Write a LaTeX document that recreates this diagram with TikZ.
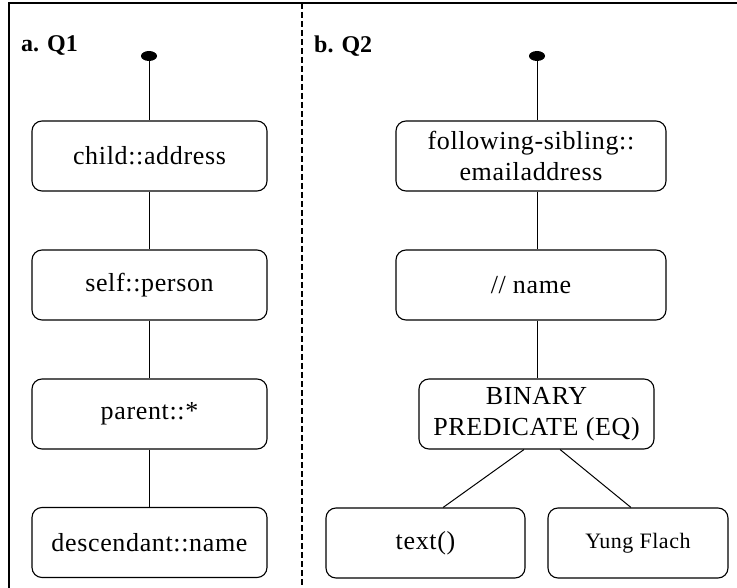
\documentclass[tikz,border=0pt]{standalone}
\usepackage{fontspec}
\setmainfont{Liberation Serif}
\usetikzlibrary{shapes.geometric,calc}
\tikzset{
  box/.style={draw, line width=1.1pt, rounded corners=10pt, inner sep=0pt, minimum height=70pt, align=center,
    font=\fontsize{26}{31}\selectfont\addfontfeatures{LetterSpace=2.5}},
  wbox/.style={box, minimum width=235pt},
  rbox/.style={box, minimum width=270pt},
  root/.style={ellipse, fill=black, minimum width=16pt, minimum height=10pt, inner sep=0pt},
  link/.style={line width=1pt},
  head/.style={anchor=west, inner sep=0pt, font=\fontsize{24}{28}\selectfont\bfseries},
}
\begin{document}
\begin{tikzpicture}[x=1pt,y=-1pt]
\useasboundingbox (0,0) rectangle (737,588);
% frame
\draw[line width=1.4pt] (9,588) -- (9,3) -- (737,3);
\draw[line width=1.3pt, dash pattern=on 6pt off 3pt] (302,3) -- (302,588);
% headings
\node[head] (ha) at (21,46) {a. Q1};
\node[head] (hb) at (314,46) {b. Q2};
% left tree
\node[root] (ra) at (149,56) {};
\node[wbox] (a1) at (149.5,156) {child::address};
\node[wbox] (a2) at (149.5,285) {self::person};
\node[wbox] (a3) at (149.5,414) {parent::*};
\node[wbox] (a4) at (149.5,542.5) {descendant::name};
\draw[link] (ra) -- (ra |- a1.north);
\draw[link] (a1) -- (a2);
\draw[link] (a2) -- (a3);
\draw[link] (a3) -- (a4);
% right tree
\node[root] (rb) at (537,56) {};
\node[rbox] (b1) at (531,156) {following-sibling::\\emailaddress};
\node[rbox] (b2) at (531,285) {// name};
\node[wbox] (b3) at (536.5,414) {BINARY\\PREDICATE (EQ)};
\node[box, minimum width=199pt] (b4) at (425.5,543) {text()};
\node[box, minimum width=180pt, font=\fontsize{22}{26}\selectfont\addfontfeatures{LetterSpace=2.5}] (b5) at (638,543) {Yung Flach};
\draw[link] (rb) -- (rb |- b1.north);
\draw[link] (rb |- b1.south) -- (rb |- b2.north);
\draw[link] (rb |- b2.south) -- (rb |- b3.north);
\draw[link] ($(b3.south west)!0.447!(b3.south east)$) -- ($(b4.north west)!0.588!(b4.north east)$);
\draw[link] ($(b3.south west)!0.6!(b3.south east)$) -- ($(b5.north west)!0.461!(b5.north east)$);
\end{tikzpicture}
\end{document}
